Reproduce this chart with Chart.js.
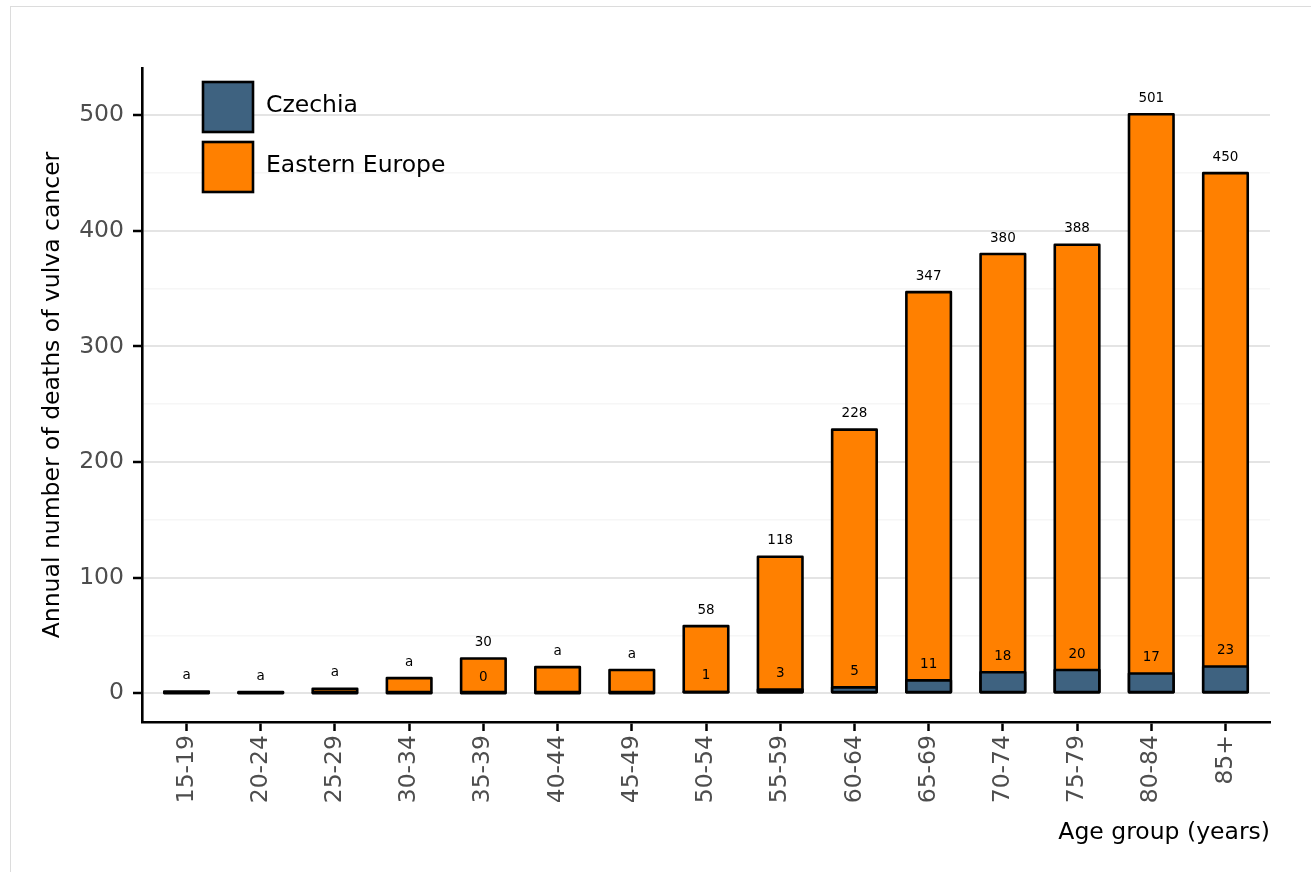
<!DOCTYPE html>
<html>
<head>
<meta charset="utf-8">
<title>Annual number of deaths of vulva cancer</title>
<script src="https://cdn.jsdelivr.net/npm/chart.js@4.4.1/dist/chart.umd.min.js"></script>
<style>
  html, body { margin: 0; padding: 0; background: #fff; }
  body { width: 1311px; height: 872px; overflow: hidden; position: relative; }
  .frame { position: absolute; left: 10px; top: 6px; width: 1400px; height: 900px; border: 1px solid #dcdcdc; box-sizing: border-box; }
  .chart-container { position: absolute; left: 0; top: 0; width: 1311px; height: 872px; }
</style>
</head>
<body>
<div class="frame"></div>
<div class="chart-container"><canvas id="myChart"></canvas></div>
<script>
// Chart data
const ageGroups = ['15-19', '20-24', '25-29', '30-34', '35-39', '40-44', '45-49', '50-54',
  '55-59', '60-64', '65-69', '70-74', '75-79', '80-84', '85+'];
const czechiaDeaths = [0, 0, 0, 0, 0, 0, 0, 1, 3, 5, 11, 18, 20, 17, 23];
const easternEuropeDeaths = [1.3, 0.4, 3.7, 13, 30, 22.5, 20, 58, 118, 228, 347, 380, 388, 501, 450];
const czechiaLabels = ['', '', '', '', '0', '', '', '1', '3', '5', '11', '18', '20', '17', '23'];
const easternEuropeLabels = ['a', 'a', 'a', 'a', '30', 'a', 'a', '58', '118', '228', '347', '380', '388', '501', '450'];
const yMajorTicks = [0, 100, 200, 300, 400, 500];
const yMinorTicks = [50, 150, 250, 350, 450];

const FONT = "'DejaVu Sans', sans-serif";
const CZ_COLOR = '#3e6280';
const EE_COLOR = '#ff8000';

document.addEventListener('DOMContentLoaded', () => {
  const canvas = document.getElementById('myChart');

  // black outline centred on each bar edge (like the original plot)
  const barOutlines = {
    id: 'barOutlines',
    afterDatasetDraw(chart, args) {
      const ctx = chart.ctx;
      ctx.save();
      ctx.lineWidth = 2.6;
      ctx.strokeStyle = '#000';
      ctx.lineJoin = 'round';
      args.meta.data.forEach((bar) => {
        const left = bar.x - bar.width / 2;
        const top = Math.min(bar.y, bar.base);
        const h = Math.abs(bar.base - bar.y);
        ctx.strokeRect(left, top, bar.width, h);
      });
      ctx.restore();
    }
  };

  // value labels above each bar
  const barLabels = {
    id: 'barLabels',
    afterDatasetsDraw(chart) {
      const ctx = chart.ctx;
      ctx.save();
      ctx.font = '13.5px ' + FONT;
      ctx.fillStyle = '#000';
      ctx.textAlign = 'center';
      ctx.textBaseline = 'middle';
      chart.data.datasets.forEach((ds, di) => {
        const meta = chart.getDatasetMeta(di);
        meta.data.forEach((bar, i) => {
          const txt = ds.valueLabels[i];
          if (txt) ctx.fillText(txt, bar.x, bar.y - 16);
        });
      });
      ctx.restore();
    }
  };

  // legend drawn inside the plot area, top left
  const insideLegend = {
    id: 'insideLegend',
    afterDraw(chart) {
      const ctx = chart.ctx;
      ctx.save();
      chart.data.datasets.forEach((ds, i) => {
        const top = 82 + i * 60;
        ctx.fillStyle = ds.backgroundColor;
        ctx.fillRect(203, top, 50, 50);
        ctx.lineWidth = 2.6;
        ctx.strokeStyle = '#000';
        ctx.strokeRect(203, top, 50, 50);
        ctx.fillStyle = '#000';
        ctx.font = '23.5px ' + FONT;
        ctx.textAlign = 'left';
        ctx.textBaseline = 'middle';
        ctx.fillText(ds.label, 266, top + 24);
      });
      ctx.restore();
    }
  };

  const isMajor = (c) => c.tick && yMajorTicks.includes(c.tick.value);

  new Chart(canvas, {
    type: 'bar',
    data: {
      datasets: [
        {
          label: 'Czechia',
          data: ageGroups.map((_, i) => ({ x: i, y: czechiaDeaths[i] })),
          valueLabels: czechiaLabels,
          backgroundColor: CZ_COLOR
        },
        {
          label: 'Eastern Europe',
          data: ageGroups.map((_, i) => ({ x: i, y: easternEuropeDeaths[i] })),
          valueLabels: easternEuropeLabels,
          backgroundColor: EE_COLOR
        }
      ]
    },
    options: {
      responsive: true,
      maintainAspectRatio: false,
      animation: false,
      datasets: {
        bar: {
          grouped: false,
          barPercentage: 0.6,
          categoryPercentage: 1,
          borderWidth: 0,
          inflateAmount: 0
        }
      },
      layout: { padding: { left: 0, top: 68, right: 41, bottom: 0 } },
      plugins: {
        legend: { display: false },
        tooltip: { enabled: false }
      },
      scales: {
        x: {
          type: 'linear',
          min: -0.6,
          max: 14.6,
          offset: false,
          afterBuildTicks: (s) => { s.ticks = ageGroups.map((_, i) => ({ value: i })); },
          afterFit: (s) => { s.height = 150; s.paddingLeft = 0; s.paddingRight = 0; },
          ticks: {
            color: '#4d4d4d',
            font: { family: FONT, size: 23.5 },
            padding: 4,
            minRotation: 90,
            maxRotation: 90,
            autoSkip: false,
            callback: (v) => ageGroups[v]
          },
          grid: {
            offset: false,
            drawOnChartArea: false,
            color: '#000',
            tickColor: '#000',
            tickWidth: 2.5,
            tickLength: 9
          },
          border: { color: '#000', width: 2.6 },
          title: {
            display: true,
            text: 'Age group (years)',
            align: 'end',
            color: '#000',
            font: { family: FONT, size: 23.5 },
            padding: { top: 0, bottom: 25 }
          }
        },
        y: {
          min: -25,
          max: 541,
          afterBuildTicks: (s) => {
            s.ticks = [...yMajorTicks, ...yMinorTicks].sort((a, b) => a - b).map((v) => ({ value: v }));
          },
          afterFit: (s) => { s.width = 142; s.paddingTop = 0; s.paddingBottom = 0; },
          ticks: {
            color: '#4d4d4d',
            font: { family: FONT, size: 23.5 },
            padding: 9,
            callback: (v) => (yMajorTicks.includes(v) ? String(v) : '')
          },
          grid: {
            color: (c) => (isMajor(c) ? '#e4e4e4' : '#f6f6f6'),
            lineWidth: (c) => (isMajor(c) ? 2 : 1.5),
            tickColor: (c) => (isMajor(c) ? '#000' : 'rgba(0,0,0,0)'),
            tickWidth: 2.5,
            tickLength: 9
          },
          border: { color: '#000', width: 2.6 },
          title: {
            display: true,
            text: 'Annual number of deaths of vulva cancer',
            color: '#000',
            font: { family: FONT, size: 23.5 },
            padding: { top: 39, bottom: 0 }
          }
        }
      }
    },
    plugins: [barOutlines, barLabels, insideLegend]
  });
});
</script>
</body>
</html>
